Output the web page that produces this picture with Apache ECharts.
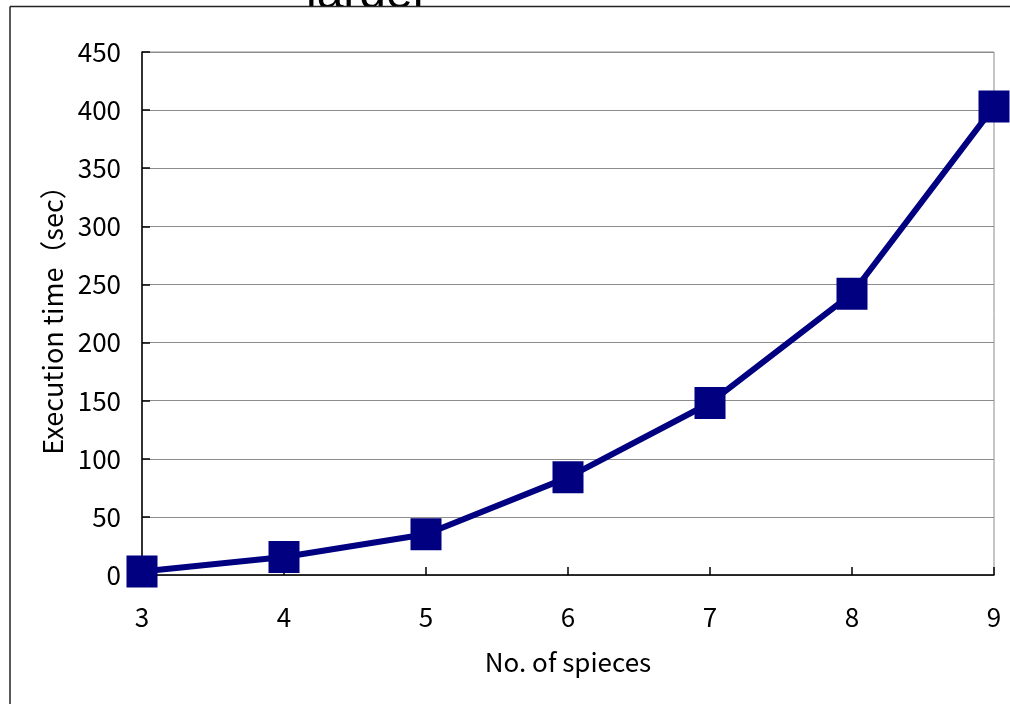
<!DOCTYPE html>
<html>
<head>
<meta charset="utf-8">
<script src="https://cdn.jsdelivr.net/npm/echarts@6/dist/echarts.min.js"></script>
<style>html,body{margin:0;padding:0;background:#fff}#c{width:1010px;height:704px}</style>
</head>
<body>
<div id="c"></div>
<script>
var categories = ['3', '4', '5', '6', '7', '8', '9'];
var execTime = [3, 15.5, 35, 84, 148, 242, 403];
var yTicks = { min: 0, max: 450, interval: 50 };

var FONT = '"Noto Sans CJK JP", sans-serif';
var FONT2 = '"Liberation Sans", sans-serif';
var chart = echarts.init(document.getElementById('c'));
chart.setOption({
  animation: false,
  backgroundColor: '#fff',
  grid: { left: 142, top: 52, right: 16, bottom: 129, show: true, borderColor: '#8c8c8c', borderWidth: 1 },
  xAxis: {
    type: 'category', data: categories, boundaryGap: false,
    name: 'No. of spieces', nameLocation: 'middle', nameGap: 74,
    nameTextStyle: { fontFamily: FONT, fontSize: 26, color: '#000' },
    axisLine: { lineStyle: { color: '#000', width: 1.5 } },
    axisTick: { inside: true, length: 8, lineStyle: { color: '#000', width: 1.5 } },
    axisLabel: { fontFamily: FONT, fontSize: 26, color: '#000', margin: 29 },
    splitLine: { show: false }
  },
  yAxis: {
    type: 'value', min: yTicks.min, max: yTicks.max, interval: yTicks.interval,
    name: 'Execution time（sec）', nameLocation: 'middle', nameGap: 76,
    nameTextStyle: { fontFamily: FONT, fontSize: 27, color: '#000' },
    axisLine: { show: true, lineStyle: { color: '#000', width: 1.5 } },
    axisTick: { show: true, inside: true, length: 8, lineStyle: { color: '#000', width: 1.5 } },
    axisLabel: { fontFamily: FONT, fontSize: 26, color: '#000', margin: 21 },
    splitLine: { show: true, lineStyle: { color: '#8c8c8c', width: 1 } }
  },
  series: [{
    type: 'line', data: execTime, clip: false,
    symbol: 'rect', symbolSize: [31, 32],
    lineStyle: { color: '#000080', width: 6 },
    itemStyle: { color: '#000080' }
  }],
  graphic: [
    { type: 'text', left: 306, top: -29, z: 1, style: { text: 'larger', fontFamily: FONT2, fontSize: 48, fill: '#000' } },
    { type: 'rect', shape: { x: 290, y: 7, width: 170, height: 40 }, z: 2, style: { fill: '#fff' } },
    { type: 'line', shape: { x1: 10, y1: 6.5, x2: 1010, y2: 6.5 }, z: 3, style: { stroke: '#222', lineWidth: 1.5 } },
    { type: 'line', shape: { x1: 10, y1: 6.5, x2: 10, y2: 704 }, z: 3, style: { stroke: '#222', lineWidth: 1.5 } }
  ]
});
</script>
</body>
</html>
